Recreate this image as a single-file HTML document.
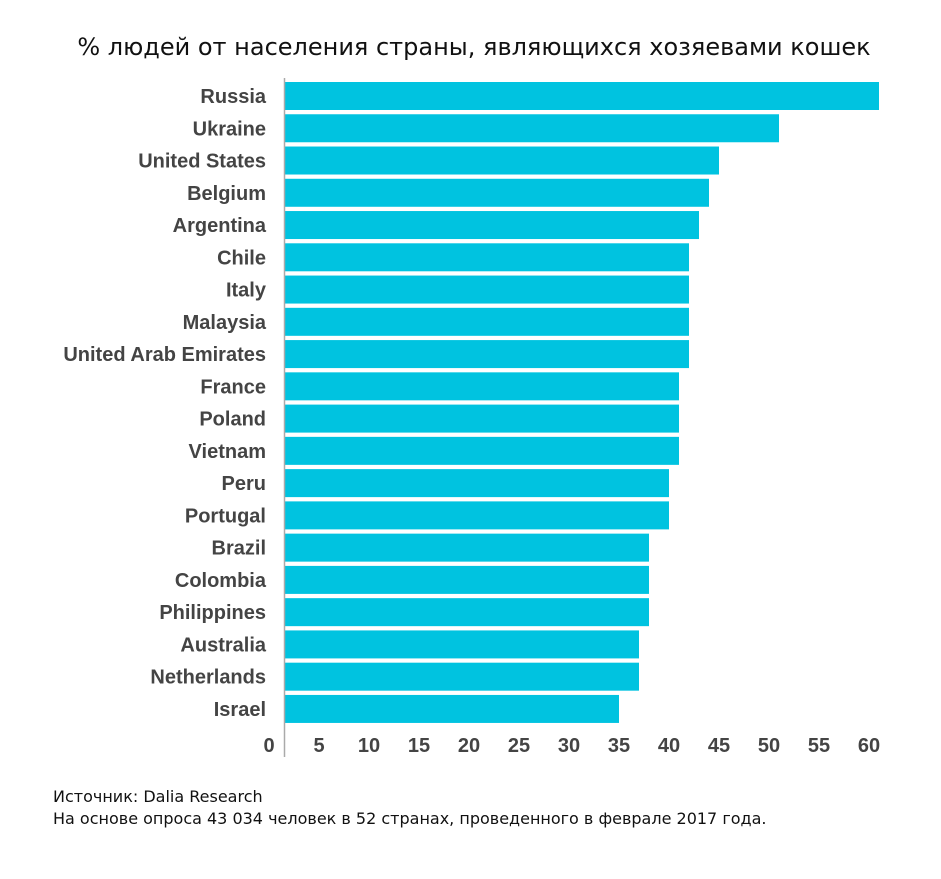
<!DOCTYPE html>
<html><head><meta charset="utf-8"><style>
body{margin:0;background:#fff;width:941px;height:874px;overflow:hidden}
svg text{font-family:"Liberation Sans",sans-serif}
</style></head><body>
<svg width="941" height="874">
<text x="474" y="55" text-anchor="middle" font-size="24" fill="#111" style="font-family:'DejaVu Sans',sans-serif">% людей от населения страны, являющихся хозяевами кошек</text>
<g id="bars"></g>
<g id="labels"></g>
<g id="ticks"></g>
<line x1="284.5" y1="78" x2="284.5" y2="757" stroke="#aaa" stroke-width="1.5"/>
<text x="53" y="802" font-size="16" fill="#111" style="font-family:'DejaVu Sans',sans-serif">Источник: Dalia Research</text>
<text x="53" y="824" font-size="16" fill="#111" style="font-family:'DejaVu Sans',sans-serif">На основе опроса 43 034 человек в 52 странах, проведенного в феврале 2017 года.</text>
</svg>
<script>
const categories=["Russia","Ukraine","United States","Belgium","Argentina","Chile","Italy","Malaysia","United Arab Emirates","France","Poland","Vietnam","Peru","Portugal","Brazil","Colombia","Philippines","Australia","Netherlands","Israel"];
const values=[61,51,45,44,43,42,42,42,42,41,41,41,40,40,38,38,38,37,37,35];
const tickValues=[0,5,10,15,20,25,30,35,40,45,50,55,60];
const NS="http://www.w3.org/2000/svg";
function x(v){return 269+10*v;}
function y(i){return 82+i*32.26;}
const gb=document.getElementById('bars'),gl=document.getElementById('labels'),gt=document.getElementById('ticks');
categories.forEach((c,i)=>{
 const r=document.createElementNS(NS,'rect');
 r.setAttribute('x',285);r.setAttribute('y',y(i));r.setAttribute('width',Math.max(0,x(values[i])-285));r.setAttribute('height',28);r.setAttribute('fill','#00c3e0');
 
 
 gb.appendChild(r);
 const t=document.createElementNS(NS,'text');
 t.setAttribute('x',266);t.setAttribute('y',y(i)+21);t.setAttribute('text-anchor','end');t.setAttribute('font-size','20');t.setAttribute('font-weight','bold');t.setAttribute('fill','#444');
 t.textContent=c;
 
 
 gl.appendChild(t);
});
tickValues.forEach(v=>{
 const t=document.createElementNS(NS,'text');
 t.setAttribute('x',x(v));t.setAttribute('y',752);t.setAttribute('text-anchor','middle');t.setAttribute('font-size','20');t.setAttribute('font-weight','bold');t.setAttribute('fill','#444');
 t.textContent=v;
 
 
 gt.appendChild(t);
});
</script>
</body></html>
